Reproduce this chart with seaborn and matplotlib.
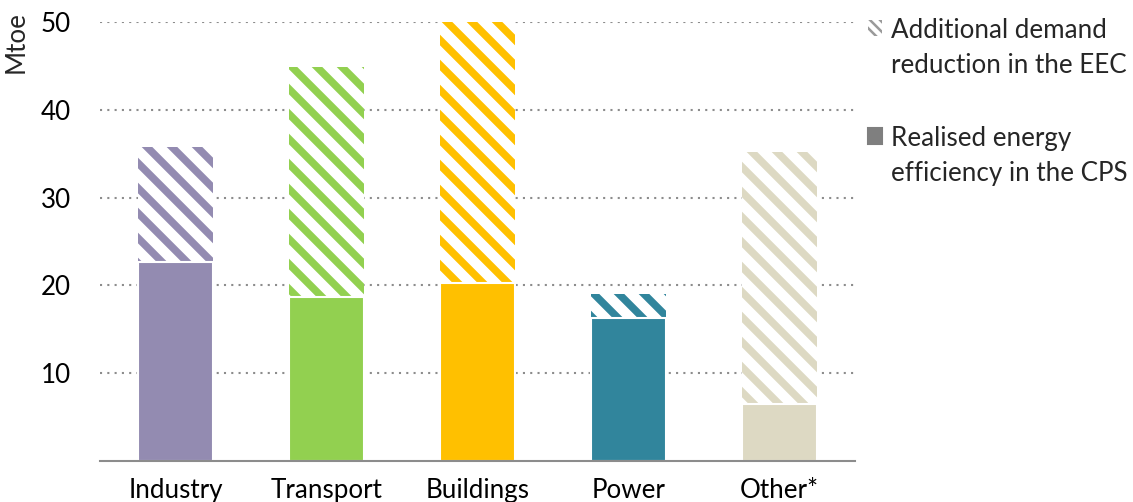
import matplotlib
matplotlib.use('Agg')
import matplotlib.pyplot as plt
import seaborn as sns
from matplotlib.patches import Patch, Rectangle
from matplotlib.legend_handler import HandlerPatch

categorias = ['Industry', 'Transport', 'Buildings', 'Power', 'Other*']
realizado = [22.65, 18.7, 20.3, 16.3, 6.5]      # Realised energy efficiency in the CPS
total = [35.75, 44.85, 50.0, 19.0, 35.15]       # realised + additional reduction in the EEC
cores = ['#938BB1', '#92D050', '#FFC000', '#31859C', '#DDD9C3']

sns.set_style('white')
plt.rcParams['font.family'] = ['Lato', 'DejaVu Sans']
plt.rcParams['hatch.linewidth'] = 3.6

fig = plt.figure(figsize=(1133 / 150, 502 / 150), dpi=150)
ax = fig.add_axes([100 / 1133, 41 / 502, 755 / 1133, 439 / 502])

# barras totais (parte hachurada)
n0 = len(ax.patches)
sns.barplot(x=categorias, y=total, hue=categorias, palette=cores, legend=False,
            width=0.5, saturation=1, ax=ax)
for p, c in zip(ax.patches[n0:], cores):
    p.set_facecolor('white')
    p.set_edgecolor(c)
    p.set_linewidth(0)
    p.set_hatch('\\\\')

# barras solidas
sns.barplot(x=categorias, y=realizado, hue=categorias, palette=cores, legend=False,
            width=0.5, saturation=1, ax=ax)

ax.set_ylim(0, 50)
ax.set_xlim(-0.5, 4.5)
ax.set_yticks([10, 20, 30, 40, 50])
ax.set_axisbelow(True)
ax.yaxis.grid(True, linestyle=(0, (1, 2.5)), color='#8c8c8c', linewidth=1.0)
ax.xaxis.grid(False)

for s in ['top', 'right', 'left']:
    ax.spines[s].set_visible(False)
ax.spines['bottom'].set_color('#8c8c8c')
ax.spines['bottom'].set_linewidth(1.0)

ax.set_xticks([-0.5, 0.5, 1.5, 2.5, 3.5, 4.5], minor=True)
ax.tick_params(axis='x', which='minor', length=5, width=1.0, color='#8c8c8c', direction='out')
ax.tick_params(axis='x', which='major', length=0, pad=8, labelsize=12.5, labelcolor='black')
ax.tick_params(axis='y', length=0, pad=14, labelsize=12.5, labelcolor='black')

ax.set_xlabel('')
ax.set_ylabel('Mtoe', fontsize=12.5)
ax.yaxis.set_label_coords(-0.095, 0.955)


# legenda: quadrado alinhado com a primeira linha do texto
def quadrado(legend, orig_handle, xdescent, ydescent, width, height, fontsize):
    return Rectangle((-xdescent, -ydescent + 10), width, height)


handles = [Patch(facecolor='white', edgecolor='#9a9a9a', hatch='\\\\\\\\\\', linewidth=0),
           Patch(facecolor='#7f7f7f', edgecolor='#7f7f7f')]
labels = ['Additional demand\nreduction in the EEC', 'Realised energy\nefficiency in the CPS']
leg = fig.legend(handles, labels, loc='upper left', bbox_to_anchor=(868 / 1133, 1 - 18 / 502),
                 frameon=False, fontsize=12.5, handlelength=0.55, handleheight=0.55,
                 handletextpad=0.35, labelspacing=1.85, borderpad=0, borderaxespad=0,
                 handler_map={Patch: HandlerPatch(patch_func=quadrado)})
for t in leg.get_texts():
    t.set_linespacing(1.5)
hp = leg.get_patches()[0]
if hasattr(hp, 'set_hatch_linewidth'):
    hp.set_hatch_linewidth(1.2)

fig.savefig('out.png', dpi=150)
